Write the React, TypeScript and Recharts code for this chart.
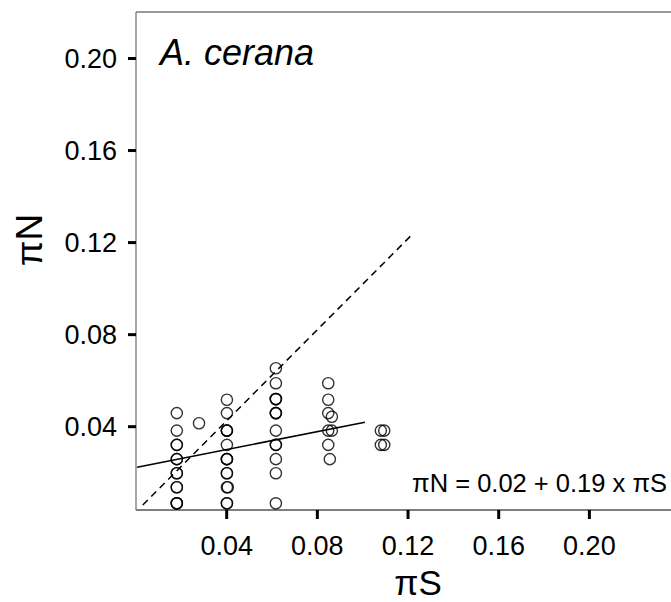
import { ScatterChart, Scatter, XAxis, YAxis, ReferenceLine } from "recharts";

const piS = [
  0.018, 0.018, 0.018, 0.018, 0.018, 0.018, 0.018, 0.018, 0.018, 0.018, 0.018, 0.018, 0.018,
  0.0278,
  0.0401, 0.0401, 0.0401, 0.0401, 0.0401, 0.0401, 0.0401, 0.0401, 0.0401, 0.0401, 0.0401, 0.0401, 0.0405, 0.0401, 0.0401,
  0.0617, 0.0617, 0.0617, 0.0617, 0.0617, 0.0617, 0.0617, 0.0617, 0.0617, 0.0617, 0.0617, 0.0617, 0.0617, 0.0617,
  0.0848, 0.0848, 0.0848, 0.0848, 0.0848, 0.0855, 0.0864, 0.0864,
  0.108, 0.1095, 0.108, 0.1095,
];
const piN = [
  0.0459, 0.0383, 0.0321, 0.0321, 0.0259, 0.0259, 0.0198, 0.0198, 0.0137, 0.0137, 0.0067, 0.0067, 0.0067,
  0.0415,
  0.0517, 0.0459, 0.0383, 0.0383, 0.0383, 0.0321, 0.0259, 0.0259, 0.0259, 0.0198, 0.0198, 0.0137, 0.0137, 0.0067, 0.0067,
  0.0654, 0.0589, 0.052, 0.052, 0.052, 0.0459, 0.0459, 0.0459, 0.0383, 0.0321, 0.0321, 0.0259, 0.0198, 0.0067,
  0.0589, 0.0517, 0.0459, 0.0383, 0.0321, 0.0259, 0.0443, 0.0383,
  0.0383, 0.0383, 0.0321, 0.0321,
];

// fitted regression (solid) and 1:1 line (dashed), end points
const fitS = [0.0005, 0.101];
const fitN = [0.0224, 0.0419];
const oneS = [0.003, 0.1223];
const oneN = [0.006, 0.124];

const xTicks = [0.04, 0.08, 0.12, 0.16, 0.2];
const yTicks = [0.04, 0.08, 0.12, 0.16, 0.2];
const xDomain = [0, 0.236];
const yDomain = [0.0038, 0.2202];

const points = piS.map((s, i) => ({ x: s, y: piN[i] }));
const fitLine = fitS.map((s, i) => ({ x: s, y: fitN[i] }));
const oneLine = oneS.map((s, i) => ({ x: s, y: oneN[i] }));

const FONT = "'Liberation Sans', Arial, sans-serif";

const OpenCircle = (props: any) => {
  const { cx, cy } = props;
  return <circle cx={cx} cy={cy} r={5.6} fill="none" stroke="#000" strokeOpacity={0.8} strokeWidth={1.4} />;
};

const NoDot = () => <g />;

export default function App() {
  return (
    <div style={{ position: "absolute", left: 0, top: 0, width: 671, height: 602, background: "#fff" }}>
      <ScatterChart width={671} height={602} margin={{ top: 12, right: 0, bottom: 0, left: 0 }}>
        <XAxis
          type="number"
          dataKey="x"
          domain={xDomain}
          ticks={xTicks}
          allowDataOverflow
          height={92}
          tickFormatter={(v: number) => v.toFixed(2)}
          tick={{ fontSize: 27, fill: "#000", fontFamily: FONT }}
          tickSize={9}
          tickMargin={17}
          tickLine={{ stroke: "#000", strokeWidth: 3 }}
          axisLine={{ stroke: "#555", strokeWidth: 1.3 }}
        />
        <YAxis
          type="number"
          dataKey="y"
          domain={yDomain}
          ticks={yTicks}
          allowDataOverflow
          width={136}
          tickFormatter={(v: number) => v.toFixed(2)}
          tick={{ fontSize: 27, fill: "#000", fontFamily: FONT }}
          tickSize={8}
          tickMargin={11}
          tickLine={{ stroke: "#000", strokeWidth: 3 }}
          axisLine={{ stroke: "#777", strokeWidth: 1.3 }}
        />
        <ReferenceLine y={yDomain[1]} stroke="#777" strokeWidth={1.3} />
        <Scatter data={oneLine} line={{ stroke: "#000", strokeWidth: 1.5, strokeDasharray: "7 5" }} shape={NoDot} isAnimationActive={false} />
        <Scatter data={fitLine} line={{ stroke: "#000", strokeWidth: 1.6 }} shape={NoDot} isAnimationActive={false} />
        <Scatter data={points} shape={OpenCircle} isAnimationActive={false} />
      </ScatterChart>
      <svg width={671} height={602} style={{ position: "absolute", left: 0, top: 0, pointerEvents: "none" }}>
        <text x={160} y={65} fontSize={36} fontStyle="italic" fontFamily={FONT} fill="#000">A. cerana</text>
        <text x={667} y={492} fontSize={25.5} textAnchor="end" fontFamily={FONT} fill="#000">πN = 0.02 + 0.19 x πS</text>
        <text x={418} y={595} fontSize={35} textAnchor="middle" fontFamily={FONT} fill="#000">πS</text>
        <text x={42} y={240} fontSize={37} textAnchor="middle" fontFamily={FONT} fill="#000" transform="rotate(-90 42 240)">πN</text>
      </svg>
    </div>
  );
}
